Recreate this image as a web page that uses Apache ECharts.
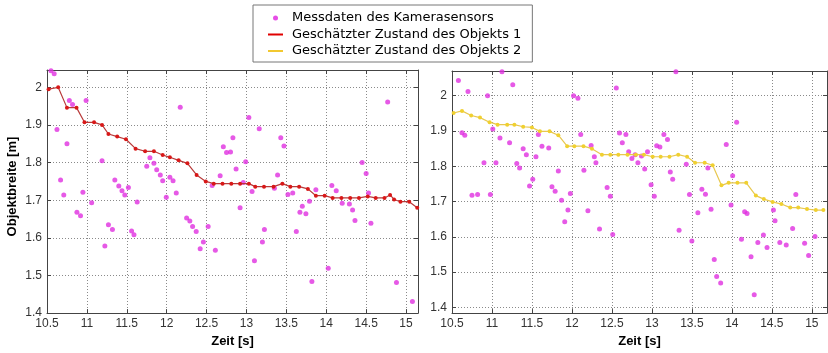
<!DOCTYPE html>
<html>
<head>
<meta charset="utf-8">
<script src="https://cdn.jsdelivr.net/npm/echarts@6/dist/echarts.min.js"></script>
<style>
html,body{margin:0;padding:0;background:#fff;}
#chart{width:828px;height:353px;}
</style>
</head>
<body>
<div id="chart"></div>
<script>
// ---------- data ----------
var xTicks = [10.5, 11, 11.5, 12, 12.5, 13, 13.5, 14, 14.5, 15];
var yTicks = [1.4, 1.5, 1.6, 1.7, 1.8, 1.9, 2.0];

var seriesNames = ['Messdaten des Kamerasensors', 'Geschätzter Zustand des Objekts 1', 'Geschätzter Zustand des Objekts 2'];

// Left panel: camera measurements
var leftScatterX = [10.55,10.59,10.625,10.67,10.71,10.75,10.78,10.82,10.875,10.92,10.95,10.99,11.06,11.19,11.225,11.27,11.32,11.35,11.40,11.44,11.475,11.52,11.56,11.59,11.63,11.75,11.79,11.84,11.875,11.92,11.95,11.995,12.04,12.08,12.12,12.17,12.25,12.29,12.325,12.37,12.42,12.46,12.52,12.57,12.61,12.67,12.71,12.75,12.80,12.83,12.87,12.92,12.96,12.99,13.03,13.07,13.10,13.16,13.20,13.225,13.35,13.39,13.43,13.47,13.52,13.58,13.625,13.67,13.70,13.745,13.79,13.82,13.87,14.025,14.07,14.125,14.20,14.29,14.33,14.36,14.45,14.50,14.53,14.56,14.77,14.88,15.08];
var leftScatterY = [2.044,2.036,1.888,1.754,1.714,1.85,1.965,1.954,1.668,1.659,1.721,1.965,1.693,1.805,1.578,1.635,1.622,1.754,1.738,1.725,1.714,1.734,1.618,1.608,1.695,1.79,1.813,1.798,1.781,1.767,1.752,1.708,1.761,1.752,1.719,1.947,1.653,1.645,1.63,1.617,1.571,1.589,1.63,1.739,1.567,1.765,1.842,1.827,1.828,1.866,1.783,1.68,1.747,1.802,1.92,1.723,1.539,1.89,1.589,1.622,1.732,1.767,1.866,1.844,1.715,1.719,1.617,1.668,1.684,1.664,1.697,1.484,1.728,1.519,1.739,1.725,1.692,1.69,1.674,1.646,1.80,1.771,1.719,1.639,1.961,1.481,1.431];

// Left panel: estimated state of object 1
var obj1T = [10.52,10.64,10.75,10.87,10.97,11.09,11.19,11.27,11.38,11.49,11.61,11.73,11.84,11.95,12.04,12.15,12.26,12.375,12.49,12.59,12.70,12.81,12.92,13.03,13.11,13.22,13.34,13.45,13.55,13.66,13.77,13.87,13.98,14.08,14.19,14.30,14.41,14.52,14.62,14.73,14.80,14.85,14.93,15.04,15.14];
var obj1W = [1.995,2.0,1.946,1.946,1.907,1.907,1.90,1.876,1.869,1.862,1.837,1.83,1.83,1.82,1.814,1.806,1.798,1.767,1.75,1.744,1.744,1.744,1.744,1.744,1.736,1.736,1.736,1.744,1.736,1.736,1.73,1.712,1.712,1.706,1.706,1.706,1.706,1.71,1.706,1.706,1.714,1.702,1.696,1.696,1.68];

// Right panel: camera measurements
var rightScatterX = [10.58,10.625,10.66,10.70,10.75,10.82,10.90,10.945,10.98,11.01,11.05,11.10,11.125,11.22,11.26,11.31,11.345,11.39,11.43,11.47,11.51,11.55,11.58,11.625,11.71,11.75,11.79,11.83,11.87,11.91,11.95,11.98,12.02,12.075,12.11,12.15,12.20,12.24,12.28,12.30,12.345,12.44,12.48,12.51,12.555,12.595,12.63,12.675,12.71,12.75,12.79,12.825,12.87,12.91,12.945,12.99,13.03,13.06,13.10,13.15,13.195,13.23,13.26,13.30,13.34,13.43,13.47,13.50,13.575,13.625,13.67,13.70,13.74,13.78,13.81,13.86,13.93,13.99,14.01,14.06,14.12,14.16,14.19,14.24,14.28,14.325,14.395,14.44,14.52,14.54,14.60,14.68,14.76,14.80,14.91,14.96,15.04];
var rightScatterY = [2.043,1.895,1.888,2.012,1.718,1.72,1.81,2.0,1.72,1.906,1.81,1.88,2.068,1.867,2.031,1.808,1.795,1.85,1.833,1.744,1.763,1.827,1.89,1.857,1.852,1.742,1.729,1.787,1.704,1.643,1.676,1.723,2.0,1.993,1.89,1.789,1.674,1.859,1.827,1.81,1.622,1.74,1.715,1.607,2.022,1.894,1.867,1.89,1.841,1.822,1.833,1.81,1.829,1.792,1.841,1.748,1.715,1.858,1.855,1.89,1.876,1.784,1.763,2.068,1.619,1.806,1.72,1.588,1.668,1.735,1.721,1.795,1.678,1.536,1.488,1.469,1.862,1.69,1.773,1.925,1.593,1.671,1.666,1.544,1.436,1.584,1.605,1.57,1.676,1.646,1.584,1.577,1.624,1.72,1.582,1.547,1.601];

// Right panel: estimated state of object 2
var obj2T = [10.52,10.625,10.74,10.85,10.97,11.07,11.19,11.28,11.39,11.50,11.60,11.72,11.83,11.94,12.03,12.145,12.25,12.375,12.48,12.58,12.695,12.80,12.90,13.01,13.11,13.22,13.33,13.44,13.54,13.66,13.76,13.87,13.96,14.07,14.18,14.30,14.40,14.51,14.62,14.73,14.83,14.94,15.05,15.145];
var obj2W = [1.951,1.957,1.944,1.938,1.925,1.918,1.918,1.918,1.912,1.91,1.899,1.899,1.888,1.857,1.857,1.857,1.85,1.833,1.833,1.833,1.833,1.833,1.833,1.827,1.827,1.827,1.833,1.827,1.81,1.81,1.803,1.746,1.753,1.753,1.753,1.717,1.707,1.699,1.693,1.683,1.683,1.679,1.676,1.676];

// ---------- helpers ----------
function zip(a, b) { return a.map(function (v, i) { return [v, b[i]]; }); }

var FONT = 'Liberation Sans';
var AX = '#444';

function xAxisCfg(grid, min, max, top) {
  return {
    type: 'value', gridIndex: grid, min: min, max: max, position: top ? 'top' : 'bottom',
    axisLine: { show: true, onZero: false, lineStyle: { color: AX, width: 1 } },
    axisTick: { show: true, inside: true, length: 4, customValues: xTicks, lineStyle: { color: AX } },
    axisLabel: top ? { show: false } : { show: true, customValues: xTicks, color: '#333', fontFamily: FONT, fontSize: 12, margin: 5 },
    splitLine: top ? { show: false } : { show: true, lineStyle: { type: [1, 2], color: '#8a8a8a', width: 1 } },
    name: top ? '' : 'Zeit [s]',
    nameLocation: 'middle', nameGap: 21,
    nameTextStyle: { fontFamily: FONT, fontSize: 13, fontWeight: 'bold', color: '#000' }
  };
}
function yAxisCfg(grid, min, max, right, name) {
  return {
    type: 'value', gridIndex: grid, min: min, max: max, position: right ? 'right' : 'left',
    axisLine: { show: true, onZero: false, lineStyle: { color: AX, width: 1 } },
    axisTick: { show: true, inside: true, length: 4, customValues: yTicks, lineStyle: { color: AX } },
    axisLabel: right ? { show: false } : { show: true, customValues: yTicks, color: '#333', fontFamily: FONT, fontSize: 12, margin: 5,
      formatter: function (v) { return (Math.round(v * 10) / 10).toString(); } },
    splitLine: right ? { show: false } : { show: true, lineStyle: { type: [1, 2], color: '#8a8a8a', width: 1 } },
    name: name || '',
    nameLocation: 'middle', nameGap: 28,
    nameTextStyle: { fontFamily: FONT, fontSize: 13, fontWeight: 'bold', color: '#000', padding: [0, 0, 0, 10] }
  };
}

var chart = echarts.init(document.getElementById('chart'), null, { renderer: 'canvas' });

var option = {
  backgroundColor: '#fff',
  animation: false,
  grid: [
    { left: 47, top: 70, width: 371, height: 245, show: false },
    { left: 452, top: 71, width: 375, height: 244, show: false }
  ],
  xAxis: [
    xAxisCfg(0, 10.5, 15.15, false),
    xAxisCfg(1, 10.5, 15.19, false),
    xAxisCfg(0, 10.5, 15.15, true),
    xAxisCfg(1, 10.5, 15.19, true)
  ],
  yAxis: [
    yAxisCfg(0, 1.4, 2.046, false, 'Objektbreite [m]'),
    yAxisCfg(1, 1.384, 2.07, false, ''),
    yAxisCfg(0, 1.4, 2.046, true, ''),
    yAxisCfg(1, 1.384, 2.07, true, '')
  ],
  legend: {
    orient: 'vertical',
    left: 253, top: 5,
    padding: [6, 11, 4, 15],
    itemGap: 2.5,
    itemWidth: 19, itemHeight: 5,
    backgroundColor: '#fff',
    borderColor: '#777', borderWidth: 1,
    textStyle: { fontFamily: 'DejaVu Sans', fontSize: 13, color: '#000', lineHeight: 14 },
    z: 10,
    data: [
      { name: seriesNames[0], icon: 'path://M0,0 M19,5 M5,2.5 A2.5,2.5 0 1,0 10,2.5 A2.5,2.5 0 1,0 5,2.5 Z', itemStyle: { color: '#e020e0' } },
      { name: seriesNames[1], icon: 'path://M0,0 M19,5 M0,1.5 L15,1.5 L15,3.5 L0,3.5 Z', itemStyle: { color: '#e00000' } },
      { name: seriesNames[2], icon: 'path://M0,0 M19,5 M0,1.5 L15,1.5 L15,3.5 L0,3.5 Z', itemStyle: { color: '#f2c830' } }
    ]
  },
  series: [
    {
      name: seriesNames[0], type: 'scatter', xAxisIndex: 0, yAxisIndex: 0,
      data: zip(leftScatterX, leftScatterY), symbol: 'circle', symbolSize: 5,
      itemStyle: { color: '#e030e0' }, clip: true
    },
    {
      name: seriesNames[0], type: 'scatter', xAxisIndex: 1, yAxisIndex: 1,
      data: zip(rightScatterX, rightScatterY), symbol: 'circle', symbolSize: 5,
      itemStyle: { color: '#e030e0' }, clip: true
    },
    {
      name: seriesNames[1], type: 'line', xAxisIndex: 0, yAxisIndex: 0,
      data: zip(obj1T, obj1W), symbol: 'circle', symbolSize: 4, showSymbol: true,
      lineStyle: { color: '#b83a3a', width: 1.2 }, itemStyle: { color: '#d81818' }, clip: true
    },
    {
      name: seriesNames[2], type: 'line', xAxisIndex: 1, yAxisIndex: 1,
      data: zip(obj2T, obj2W), symbol: 'circle', symbolSize: 4, showSymbol: true,
      lineStyle: { color: '#e8c850', width: 1.2 }, itemStyle: { color: '#f0d030' }, clip: true
    }
  ]
};
chart.setOption(option);
</script>
</body>
</html>
